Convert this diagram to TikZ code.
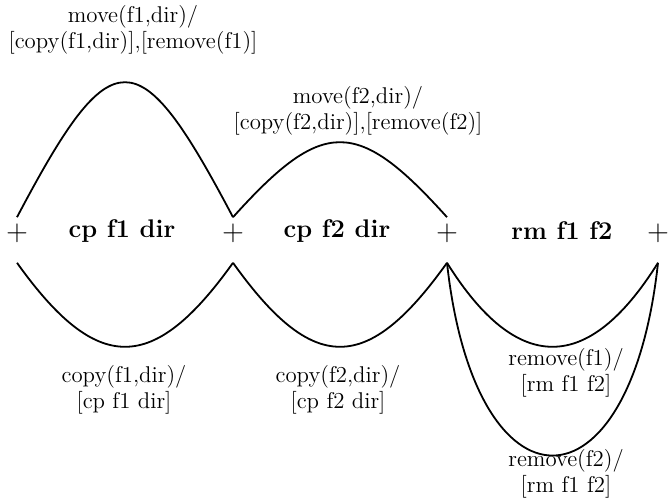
\documentclass[tikz,border=0pt]{standalone}
\usetikzlibrary{positioning,calc}
\begin{document}
\begin{tikzpicture}[x=0.5pt,y=-0.5pt,
  trans/.style={line width=0.9pt},
  lbl/.style={align=center,font=\fontsize{11.4}{13}\selectfont},
  cmd/.style={font=\fontsize{12.75}{15}\selectfont\bfseries},
  boundary/.style={inner sep=0pt,font=\fontsize{14}{16}\selectfont}]
  \useasboundingbox (0,0) rectangle (668,497);
  \node[boundary] (p0) at (17,233) {$+$};
  \node[boundary] (p1) at (233,233) {$+$};
  \node[boundary] (p2) at (447,233) {$+$};
  \node[boundary] (p3) at (658,233) {$+$};
  \node[cmd] (cp1) at (122,231) {cp f1 dir};
  \node[cmd] (cp2) at (337,231) {cp f2 dir};
  \node[cmd] (rm) at (562,231) {rm f1 f2};
  \draw[trans] ([yshift=3pt]p0.north) .. controls +(95,-180) and +(-95,-180) .. ([yshift=3pt]p1.north);
  \draw[trans] ([yshift=3pt]p1.north) .. controls +(90,-100) and +(-90,-100) .. ([yshift=3pt]p2.north);
  \draw[trans] ([yshift=-10pt]p0.south) .. controls +(80,112) and +(-80,112) .. ([yshift=-10pt]p1.south);
  \draw[trans] ([yshift=-10pt]p1.south) .. controls +(80,112) and +(-80,112) .. ([yshift=-10pt]p2.south);
  \draw[trans] ([yshift=-10pt]p2.south) .. controls +(70,112) and +(-70,112) .. ([yshift=-10pt]p3.south);
  \draw[trans] ([yshift=-10pt]p2.south) .. controls +(28,257) and +(-28,257) .. ([yshift=-10pt]p3.south);
  \node[lbl] (mv1) at (133,30) {move(f1,dir)/\\{}[copy(f1,dir)],[remove(f1)]};
  \node[lbl] (mv2) at (358,111) {move(f2,dir)/\\{}[copy(f2,dir)],[remove(f2)]};
  \node[lbl] (cy1) at (124,390) {copy(f1,dir)/\\{}[cp f1 dir]};
  \node[lbl] (cy2) at (338,390) {copy(f2,dir)/\\{}[cp f2 dir]};
  \node[lbl] (rv1) at (566,373) {remove(f1)/\\{}[rm f1 f2]};
  \node[lbl] (rv2) at (566,474) {remove(f2)/\\{}[rm f1 f2]};
\end{tikzpicture}
\end{document}
